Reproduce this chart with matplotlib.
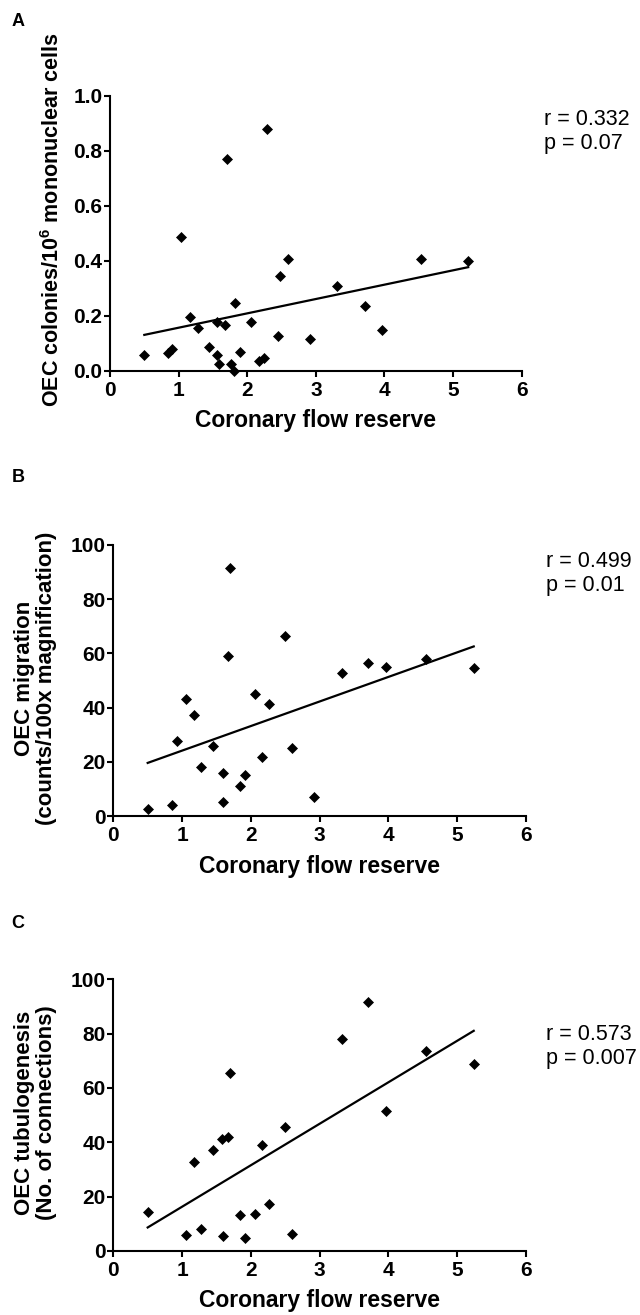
import numpy as np
import matplotlib
matplotlib.use("Agg")
import matplotlib.pyplot as plt

plt.rcParams['font.family'] = ['Liberation Sans', 'DejaVu Sans']
plt.rcParams['mathtext.fontset'] = 'custom'
plt.rcParams['mathtext.rm'] = 'Liberation Sans'
plt.rcParams['mathtext.bf'] = 'Liberation Sans:bold'

# ---- data ----
A_x = [0.50, 0.85, 0.91, 1.04, 1.17, 1.28, 1.45, 1.56, 1.56, 1.59, 1.67, 1.70, 1.76, 1.82, 1.81,
       1.90, 2.06, 2.17, 2.24, 2.29, 2.45, 2.48, 2.59, 2.92, 3.31, 3.71, 3.96, 4.53, 5.22]
A_y = [0.057, 0.067, 0.079, 0.488, 0.197, 0.155, 0.088, 0.179, 0.057, 0.025, 0.167, 0.769, 0.025,
       0.248, 0.0, 0.068, 0.178, 0.036, 0.048, 0.878, 0.127, 0.346, 0.407, 0.117, 0.307, 0.237,
       0.149, 0.407, 0.400]

B_x = [0.50, 0.86, 0.92, 1.05, 1.17, 1.28, 1.45, 1.59, 1.59, 1.67, 1.70, 1.84, 1.91, 2.06, 2.16,
       2.26, 2.50, 2.60, 2.92, 3.32, 3.71, 3.97, 4.54, 5.24]
B_y = [2.5, 3.9, 27.6, 43.2, 37.3, 18.1, 25.8, 15.9, 5.2, 59.2, 91.4, 11.2, 15.3, 45.1, 21.6,
       41.3, 66.5, 25.1, 7.1, 52.9, 56.3, 55.1, 57.9, 54.7]

C_x = [0.50, 1.05, 1.17, 1.28, 1.45, 1.58, 1.59, 1.67, 1.70, 1.84, 1.91, 2.06, 2.16, 2.26, 2.50,
       2.60, 3.32, 3.71, 3.97, 4.54, 5.24]
C_y = [14.4, 6.0, 32.8, 8.2, 37.3, 41.3, 5.4, 41.8, 65.5, 13.1, 4.7, 13.7, 38.9, 17.4, 45.8,
       6.1, 78.0, 91.8, 51.5, 73.5, 68.8]

x_ticks = [0, 1, 2, 3, 4, 5, 6]
A_yticks = [0.0, 0.2, 0.4, 0.6, 0.8, 1.0]
A_yticklabels = ['0.0', '0.2', '0.4', '0.6', '0.8', '1.0']
BC_yticks = [0, 20, 40, 60, 80, 100]

panel_letters = ['A', 'B', 'C']
stats = [('r = 0.332', 'p = 0.07'), ('r = 0.499', 'p = 0.01'), ('r = 0.573', 'p = 0.007')]
x_label = 'Coronary flow reserve'
y_labels = [r'OEC colonies/10$^{\mathbf{6}}$ mononuclear cells',
            'OEC migration\n(counts/100x magnification)',
            'OEC tubulogenesis\n(No. of connections)']

W, H = 640, 1315
fig = plt.figure(figsize=(W / 100, H / 100), dpi=100)

# axes boxes in pixels: left, right, top, bottom
boxes = [(110, 521.7, 95.7, 371), (113.3, 526, 545, 816), (113.3, 526, 979.3, 1251)]
datasets = [(A_x, A_y, (0, 1.0), A_yticks, A_yticklabels),
            (B_x, B_y, (0, 100), BC_yticks, [str(t) for t in BC_yticks]),
            (C_x, C_y, (0, 100), BC_yticks, [str(t) for t in BC_yticks])]
letter_pos = [(18, 22), (18, 478), (18, 923)]
stat_pos = [(544, 125), (546, 567), (546, 1040)]
ylab_x = [53, 35.5, 35.5]
ylab_cy = [220, 678, 1113]
ylab_size = [15.5, 16, 16]

for i, ((l, r, t, b), (xs, ys, ylim, yt, ytl)) in enumerate(zip(boxes, datasets)):
    ax = fig.add_axes([l / W, 1 - b / H, (r - l) / W, (b - t) / H])
    xs = np.array(xs); ys = np.array(ys)
    ax.plot(xs, ys, linestyle='none', marker='D', markersize=5.5, color='black',
            markeredgewidth=0.5, clip_on=False, zorder=3)
    slope, intercept = np.polyfit(xs, ys, 1)
    xl = np.array([xs.min(), xs.max()])
    ax.plot(xl, intercept + slope * xl, color='black', linewidth=1.6, clip_on=False, zorder=2)
    ax.set_xlim(0, 6)
    ax.set_ylim(*ylim)
    ax.set_xticks(x_ticks)
    ax.set_yticks(yt)
    ax.set_yticklabels(ytl)
    for s in ['top', 'right']:
        ax.spines[s].set_visible(False)
    for s in ['left', 'bottom']:
        ax.spines[s].set_linewidth(1.5)
    ax.tick_params(axis='both', direction='out', length=4.5, width=1.5, labelsize=15)
    ax.tick_params(axis='x', pad=3)
    ax.tick_params(axis='y', pad=1)
    for lab in ax.get_xticklabels() + ax.get_yticklabels():
        lab.set_fontweight('bold')
    ax.set_xlabel(x_label, fontsize=16.5, fontweight='bold')
    ax.xaxis.set_label_coords(0.5, -50 / (b - t), transform=ax.transAxes)
    ax.xaxis.label.set_va('center')
    ax.set_ylabel(y_labels[i], fontsize=ylab_size[i], fontweight='bold', linespacing=1.1)
    ax.yaxis.set_label_coords((ylab_x[i] - l) / (r - l), (b - ylab_cy[i]) / (b - t),
                              transform=ax.transAxes)
    ax.yaxis.label.set_va('center')
    ax.yaxis.label.set_ha('center')

    fig.text(letter_pos[i][0] / W, 1 - letter_pos[i][1] / H, panel_letters[i],
             fontsize=13, fontweight='bold', ha='center', va='center')
    sx, sy = stat_pos[i]
    fig.text(sx / W, 1 - sy / H, stats[i][0], fontsize=15.5, ha='left', va='baseline')
    fig.text(sx / W, 1 - (sy + 24) / H, stats[i][1], fontsize=15.5, ha='left', va='baseline')

fig.savefig('out.png', dpi=100)
